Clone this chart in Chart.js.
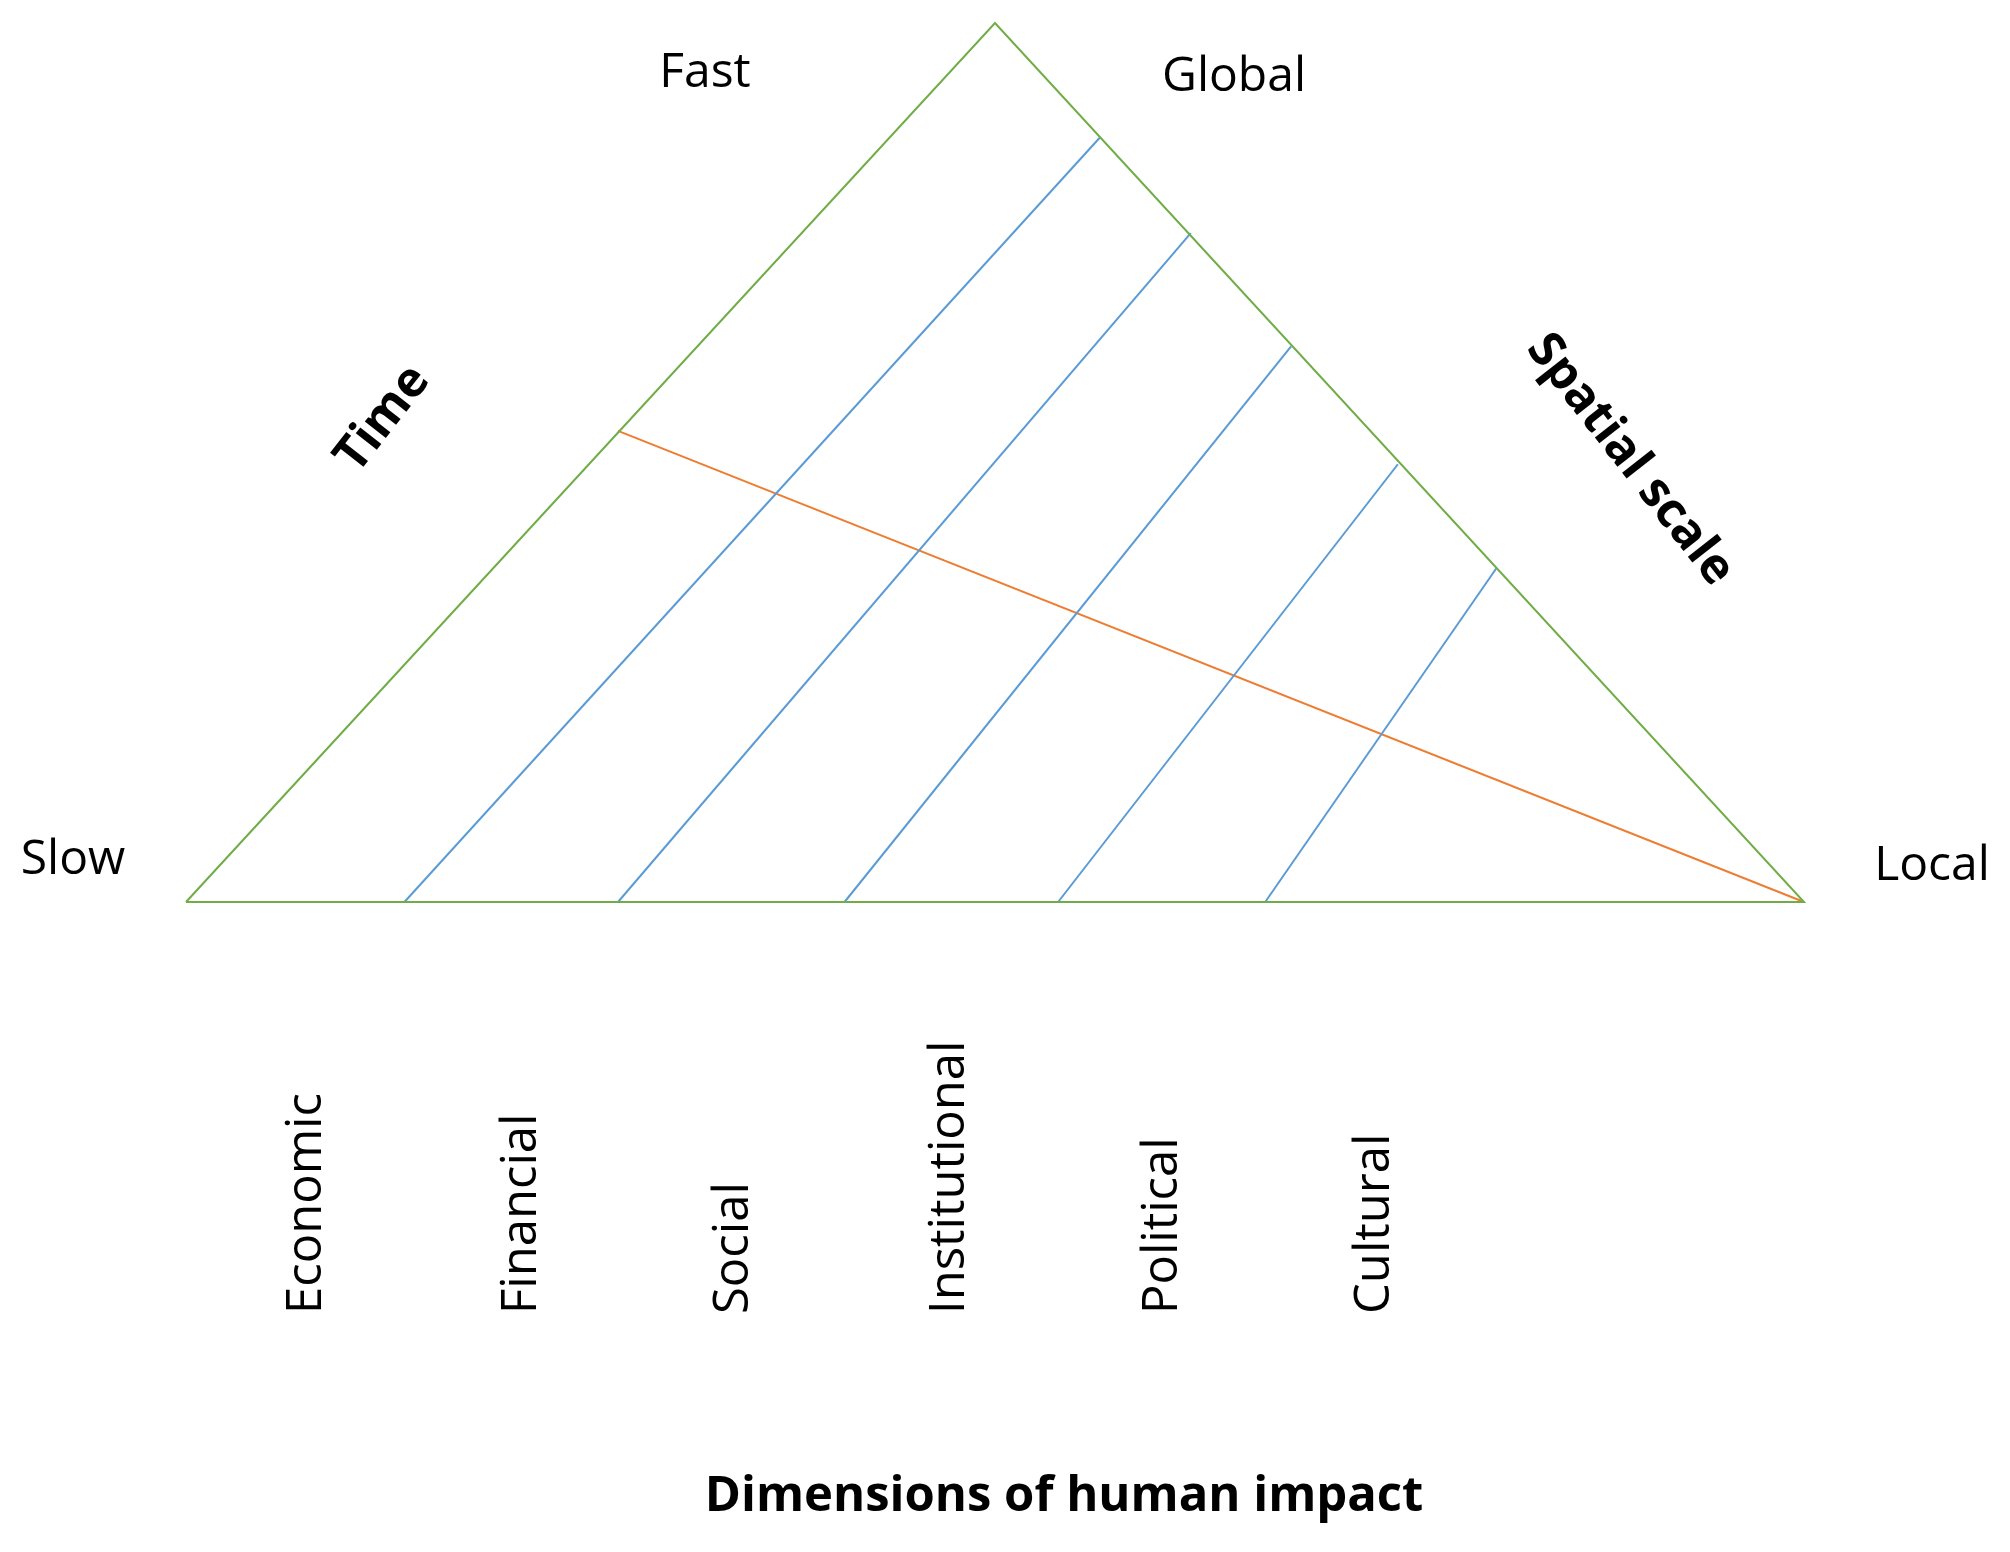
<!DOCTYPE html>
<html><head><meta charset="utf-8">
<script src="https://cdn.jsdelivr.net/npm/chart.js@4/dist/chart.umd.min.js"></script>
<style>html,body{margin:0;padding:0;background:#fff}#w{width:2010px;height:1552px}</style>
</head><body><div id="w"><canvas id="c"></canvas></div>
<script>
// Diagram coordinates: base from x=0 (Slow) to x=100 (Local), apex at height 100
const triangle = [{x:0,y:0},{x:50,y:100},{x:100,y:0},{x:0,y:0}];
const dividerBottomX = [13.5, 26.7, 40.7, 53.9, 66.7];
const dividerTopX = [56.5, 62.1, 68.3, 74.9, 81.0];
const dividerTopY = [87.0, 76.1, 63.2, 49.8, 38.0];
const orangeLine = [{x:26.7,y:53.6},{x:100,y:0}];
const categories = ["Economic","Financial","Social","Institutional","Political","Cultural"];
const categoryX = [7.5, 20.8, 33.9, 47.2, 60.4, 73.5];

const datasets = [
  {data:triangle, borderColor:'#70AD47', borderWidth:2, pointRadius:0, showLine:true, fill:false, clip:false}
];
dividerBottomX.forEach((bx,i)=>datasets.push({data:[{x:bx,y:0},{x:dividerTopX[i],y:dividerTopY[i]}],
  borderColor:'#5B9BD5', borderWidth:2, pointRadius:0, showLine:true, clip:false}));
datasets.push({data:orangeLine, borderColor:'#ED7D31', borderWidth:2, pointRadius:0, showLine:true, clip:false});

const textPlugin = {
  id:'txt',
  afterDatasetsDraw(chart){
    const ctx = chart.ctx, xs = chart.scales.x;
    ctx.save();
    ctx.fillStyle = '#000';
    ctx.textBaseline = 'middle';
    ctx.textAlign = 'center';
    ctx.font = '48px "Open Sans", sans-serif';
    ctx.fillText('Fast', 705, 73);
    ctx.fillText('Global', 1234, 77);
    ctx.fillText('Slow', 73, 860);
    ctx.fillText('Local', 1932, 866);
    ctx.font = 'bold 49px "Open Sans", sans-serif';
    ctx.fillText('Dimensions of human impact', 1064, 1497);
    ctx.save(); ctx.translate(383,419); ctx.rotate(-52*Math.PI/180); ctx.fillText('Time',0,0); ctx.restore();
    ctx.save(); ctx.translate(1630,460); ctx.rotate(52*Math.PI/180); ctx.fillText('Spatial scale',0,0); ctx.restore();
    ctx.font = '49px "Open Sans", sans-serif';
    ctx.textAlign = 'left';
    categories.forEach((c,i)=>{
      ctx.save(); ctx.translate(xs.getPixelForValue(categoryX[i]), 1314); ctx.rotate(-Math.PI/2);
      ctx.fillText(c,0,0); ctx.restore();
    });
    ctx.restore();
  }
};

new Chart(document.getElementById('c'), {
  type:'scatter',
  data:{datasets},
  options:{
    responsive:true, maintainAspectRatio:false, animation:false,
    layout:{padding:{left:186,right:206,top:23,bottom:650}},
    plugins:{legend:{display:false},tooltip:{enabled:false}},
    scales:{
      x:{type:'linear',min:0,max:100,display:false},
      y:{type:'linear',min:0,max:100,display:false}
    }
  },
  plugins:[textPlugin]
});
</script></body></html>
